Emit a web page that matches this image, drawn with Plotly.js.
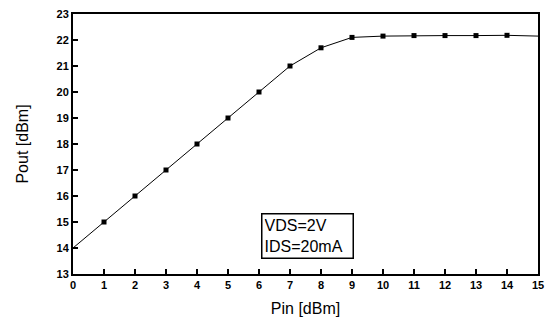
<!DOCTYPE html>
<html><head><meta charset="utf-8">
<script src="https://cdn.plot.ly/plotly-3.0.1.min.js"></script>
<style>body{margin:0;background:#fff}#c{width:549px;height:320px}</style>
</head><body><div id="c"></div>
<script>
const pin = [0,1,2,3,4,5,6,7,8,9,10,11,12,13,14,15];
const pout = [14.0,15.0,16.0,17.0,18.0,19.0,20.0,21.0,21.7,22.1,22.15,22.17,22.17,22.17,22.18,22.15];
const markerPin = [1,2,3,4,5,6,7,8,9,10,11,12,13,14];
const markerPout = [15.0,16.0,17.0,18.0,19.0,20.0,21.0,21.7,22.1,22.15,22.17,22.17,22.17,22.18];
const xTicks = [0,1,2,3,4,5,6,7,8,9,10,11,12,13,14,15];
const yTicks = [13,14,15,16,17,18,19,20,21,22,23];

const data = [
 {x: pin, y: pout, mode:'lines', line:{color:'#000', width:1}, hoverinfo:'skip', showlegend:false},
 {x: markerPin, y: markerPout, mode:'markers', marker:{symbol:'square', size:5, color:'#000'}, showlegend:false}
];
const FONT = 'Liberation Sans, Arial';
const axisCommon = {showline:true, mirror:true, linecolor:'#000', linewidth:2, ticks:'inside', ticklen:5, tickwidth:1.5, tickcolor:'#000', showgrid:false, zeroline:false, tickfont:{family:FONT, size:11, color:'#000', weight:'bold'}};
const layout = {
 width:549, height:320,
 margin:{l:73, r:11, t:14, b:46},
 paper_bgcolor:'#fff', plot_bgcolor:'#fff',
 xaxis: Object.assign({}, axisCommon, {range:[0,15], tickvals:xTicks, title:{text:'Pin [dBm]', font:{family:FONT, size:16, color:'#000'}, standoff:13}}),
 yaxis: Object.assign({}, axisCommon, {range:[13,23], tickvals:yTicks, title:{text:'Pout [dBm]', font:{family:FONT, size:16, color:'#000'}, standoff:24}}),
 annotations:[{x:7.58, y:14.48, xref:'x', yref:'y', text:'VDS=2V<br>IDS=20mA', showarrow:false, align:'left', width:86, height:39, font:{family:FONT, size:16, color:'#000'}, bordercolor:'#000', borderwidth:1.5, borderpad:2, bgcolor:'#fff'}]
};
Plotly.newPlot('c', data, layout, {displayModeBar:false, staticPlot:true});
</script></body></html>
